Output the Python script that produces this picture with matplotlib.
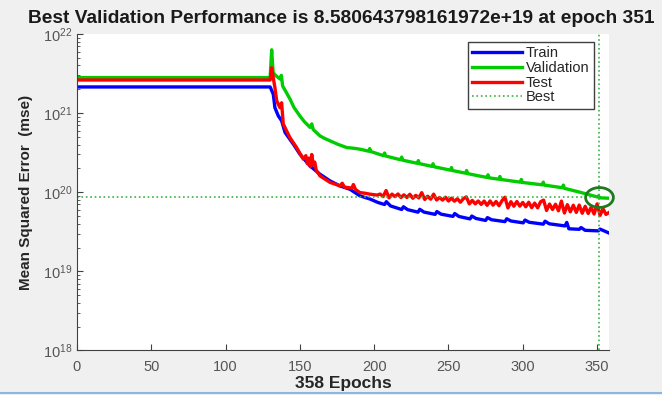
import numpy as np
import matplotlib
matplotlib.use('Agg')
import matplotlib.pyplot as plt
from matplotlib.path import Path
from matplotlib.lines import Line2D

plt.rcParams['font.family'] = ['Liberation Sans', 'DejaVu Sans']
plt.rcParams['mathtext.fontset'] = 'custom'
plt.rcParams['mathtext.rm'] = 'Liberation Sans'

# MSE values are in units of 1e19
unit = 1e19

# Training curve
train_ep = [0, 130, 132.1, 133.2, 135.5, 137.7, 140, 145.6, 150, 156.8, 163.5, 170.3, 177, 183.7, 190.4, 197.2, 202.6,
            207, 208.2, 211, 218.5, 219.7, 222.5, 229.5, 230.7, 233.5, 241, 242.2, 245, 253, 254.2, 257,
            264.5, 265.7, 268.5, 275, 276.2, 279, 288, 289.2, 292, 300.3, 301.5, 304.3, 313.8, 315, 317.8,
            328.4, 329.6, 331, 338, 339.2, 342, 350.8, 352, 358]
train_mse = [214, 214, 173, 117, 92, 80, 57, 40.5, 30.3, 21.5, 16.9, 13.9, 12.0, 10.9, 9.0, 8.2, 7.41,
             7.0, 7.6, 6.71, 6.05, 6.55, 6.02, 5.6, 6.08, 5.61, 5.25, 5.7, 5.28, 4.95, 5.38, 4.94,
             4.6, 5.0, 4.66, 4.4, 4.78, 4.49, 4.25, 4.62, 4.33, 4.1, 4.45, 4.17, 3.95, 4.3, 3.99,
             3.75, 4.15, 3.45, 3.4, 3.58, 3.3, 3.25, 3.42, 3.05]

# Validation curve
val_ep = [0, 130, 131, 132, 134, 136.6, 137.5, 138.4, 140, 143.3, 146, 150, 153, 156.8, 158, 159, 163.5, 167,
          170.3, 176, 181.5, 186, 190.4, 196.3, 197, 197.7, 202.6, 206.3, 207, 207.7, 217.8, 218.5, 219.2,
          229, 229.7, 230.4, 238.9, 239.6, 240.3, 251.3, 252, 252.7, 261.5, 262.2, 262.9, 271, 275.9, 276.6,
          277.3, 283.9, 284.6, 285.3, 298.3, 299, 299.7, 313.1, 313.8, 314.5, 326.6, 327.3, 328, 338.5,
          350.3, 351, 351.7, 358]
val_mse = [281, 281, 630, 325, 295, 270, 300, 220, 195, 151, 118, 92, 78, 66, 73, 62, 51.5, 47.5,
           44.6, 40.0, 36.7, 36.0, 35.0, 33.0, 35.6, 32.7, 30.5, 29.0, 31.3, 28.7, 25.7, 27.8, 25.4,
           23.2, 25.1, 23.0, 21.2, 22.9, 21.0, 19.0, 20.5, 18.8, 17.4, 18.8, 17.2, 16.0, 15.4, 16.6,
           15.2, 14.6, 15.8, 14.5, 13.4, 14.5, 13.3, 12.4, 13.4, 12.3, 11.4, 12.3, 11.2, 10.0,
           8.7, 9.0, 8.5, 8.4]

# Test curve
test_ep = [0, 130, 131, 132.2, 133.2, 134.4, 136.6, 137.7, 138.8, 141, 143.3, 147.8, 150, 152.3, 154, 155, 156,
           157, 158, 159, 160, 161, 163.5, 167, 170.3, 174, 177, 178.5, 180, 185, 186, 187.5, 190.4, 194, 197,
           202] + list(range(204, 359, 2))
test_mse = [262, 262, 375, 270, 210, 143, 117, 135, 73, 60, 49, 36.7, 31, 26.2, 29, 23, 27,
            21, 30, 22, 24, 19, 16.1, 14.6, 13.3, 12.6, 12.0, 13.0, 11.6, 11.3, 12.5, 10.8, 9.9, 9.7, 9.46,
            9.2,
            9.48, 8.8, 10.5, 8.48, 9.46, 8.8, 9.5, 8.57, 9.27, 8.58, 9.42, 8.39, 9.13, 8.46, 9.88, 8.09,
            8.9, 8.16, 9.46, 7.97, 8.59, 7.95, 8.64, 7.75, 8.41, 7.7, 8.27, 7.48, 8.27, 8.73, 7.12, 7.88,
            7.13, 7.74, 7.02, 7.73, 6.83, 7.76, 6.86, 7.64, 6.75, 7.81, 8.65, 6.33, 7.6, 6.65, 7.63, 6.67,
            7.43, 6.54, 7.47, 6.38, 7.29, 6.35, 7.59, 7.94, 5.88, 7.09, 6.05, 7.05, 5.83, 7.72, 5.46, 6.96,
            5.65, 6.85, 5.56, 6.88, 5.42, 6.64, 5.39, 6.47, 5.3, 7.12, 5.1, 6.17, 5.24, 5.55]

best_epoch = 351
best_perf = 8.580643798161972e+19
n_epochs = 358

fig = plt.figure(figsize=(6.62, 3.95), dpi=100, facecolor='#f0f0f0')
ax = fig.add_axes([0.1163, 0.1127, 0.8036, 0.8013])

ax.semilogy(train_ep, np.array(train_mse) * unit, color='#0000ff', lw=2.4, label='Train')
ax.semilogy(val_ep, np.array(val_mse) * unit, color='#00cc00', lw=2.4, label='Validation')
ax.semilogy(test_ep, np.array(test_mse) * unit, color='#ff0000', lw=2.4, label='Test')

ax.plot([best_epoch, best_epoch], [1e18, 1e22], ':', color='#3cb043', lw=1.2, label='Best')
ax.plot([0, best_epoch], [best_perf, best_perf], ':', color='#3cb043', lw=1.2)

# ellipse-shaped circle marker (the screenshot is stretched sideways)
circ = Path.unit_circle()
ell = Path(circ.vertices * np.array([1.4, 1.0]), circ.codes)
ax.plot([best_epoch], [best_perf], marker=ell, ms=20, mfc='none', mec='#1e7a1e', mew=2, clip_on=False)

ax.set_xlim(0, n_epochs)
ax.set_ylim(1e18, 1e22)
ax.set_xticks([0, 50, 100, 150, 200, 250, 300, 350])
ax.spines['top'].set_visible(False)
ax.spines['right'].set_visible(False)
for s in ['left', 'bottom']:
    ax.spines[s].set_color('#404040')
ax.tick_params(which='both', direction='in', colors='#404040', labelsize=10.5)
ax.tick_params(axis='x', pad=7)
ax.tick_params(which='major', length=4)
ax.tick_params(which='minor', length=2)
for lab in ax.get_xticklabels() + ax.get_yticklabels():
    lab.set_color('#555555')

ax.set_title('Best Validation Performance is 8.580643798161972e+19 at epoch 351',
             fontsize=13.8, fontweight='bold', color='#1a1a1a', pad=8, x=0.497)
ax.set_xlabel('358 Epochs', fontsize=12.5, fontweight='bold', color='#262626', labelpad=1)
ax.set_ylabel('Mean Squared Error  (mse)', fontsize=11, fontweight='bold', color='#262626', labelpad=7)

leg = ax.legend(loc='upper right', bbox_to_anchor=(0.972, 0.975), borderaxespad=0, fancybox=False,
                framealpha=1, edgecolor='#404040', fontsize=10.5, handlelength=3.4, handletextpad=0.3,
                labelspacing=0.05, borderpad=0.3)
for t in leg.get_texts():
    t.set_color('#262626')

fig.add_artist(Line2D([0, 1], [1 - 393 / 395, 1 - 393 / 395], color='#8ab8e6', lw=1.5))

fig.savefig('out.png', dpi=100, facecolor=fig.get_facecolor())
